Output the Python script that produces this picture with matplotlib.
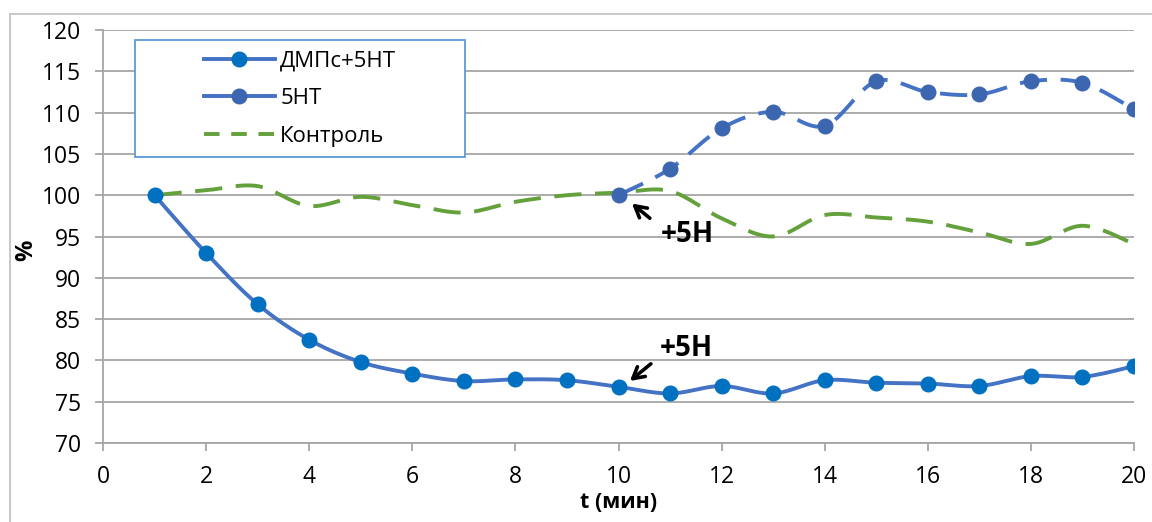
import numpy as np
import matplotlib
matplotlib.use("Agg")
from matplotlib import pyplot as plt
from matplotlib.lines import Line2D
from matplotlib.patches import Rectangle

plt.rcParams['font.family'] = ['Open Sans', 'DejaVu Sans']

# data
t_all = list(range(1, 21))
dmps_5nt = [100, 93.0, 86.8, 82.5, 79.8, 78.4, 77.5, 77.7, 77.6, 76.8,
            76.0, 76.9, 76.0, 77.6, 77.3, 77.2, 76.9, 78.1, 78.0, 79.3]
t_5nt = list(range(10, 21))
only_5nt = [100, 103.2, 108.1, 110.1, 108.4, 113.8, 112.5, 112.2, 113.8, 113.6, 110.4]
control = [100, 100.6, 101.1, 98.7, 99.8, 98.8, 97.9, 99.2, 100.0, 100.3,
           100.5, 97.2, 95.0, 97.6, 97.3, 96.8, 95.5, 94.1, 96.3, 94.1]

labels = ['ДМПс+5НТ', '5НТ', 'Контроль']
blue_line = '#4472C4'
c1_marker = '#0070C0'
c2_marker = '#3D66B0'
green = '#64A03C'
grid_c = '#A6A6A6'


def smooth(x, y, n=30):
    # Excel-like smoothed line (catmull-rom bezier)
    x = np.asarray(x, float)
    y = np.asarray(y, float)
    px = np.concatenate([[x[0]], x, [x[-1]]])
    py = np.concatenate([[y[0]], y, [y[-1]]])
    xs, ys = [], []
    s = np.linspace(0, 1, n)
    for i in range(len(x) - 1):
        p0 = np.array([px[i + 1], py[i + 1]])
        p3 = np.array([px[i + 2], py[i + 2]])
        c1 = p0 + (p3 - np.array([px[i], py[i]])) / 6
        c2 = p3 - (np.array([px[i + 3], py[i + 3]]) - p0) / 6
        b = ((1 - s) ** 3)[:, None] * p0 + (3 * (1 - s) ** 2 * s)[:, None] * c1 \
            + (3 * (1 - s) * s ** 2)[:, None] * c2 + (s ** 3)[:, None] * p3
        xs.extend(b[:, 0])
        ys.extend(b[:, 1])
    return np.array(xs), np.array(ys)


fig = plt.figure(figsize=(11.52, 5.22), dpi=100)
ax = fig.add_axes([103 / 1152, 1 - 443 / 522, 1031 / 1152, 413 / 522])

ax.set_xlim(0, 20)
ax.set_ylim(70, 120)
ax.set_xticks(range(0, 21, 2))
ax.set_yticks(range(70, 121, 5))
ax.yaxis.grid(True, color=grid_c, lw=1.3)
ax.set_axisbelow(True)
for s in ['top', 'right']:
    ax.spines[s].set_visible(False)
for s in ['left', 'bottom']:
    ax.spines[s].set_color(grid_c)
    ax.spines[s].set_linewidth(1.3)
ax.tick_params(axis='both', colors=grid_c, length=6, width=1.3, labelsize=16.5,
               labelcolor='black')
ax.tick_params(axis='y', pad=10)
ax.tick_params(axis='x', pad=10)

# control
sx, sy = smooth(t_all, control)
ax.plot(sx, sy, color=green, lw=2.8, dashes=(7, 3.5), zorder=2)

# 5НТ
sx, sy = smooth(t_5nt, only_5nt)
ax.plot(sx, sy, color=blue_line, lw=2.8, dashes=(7, 3.5), zorder=3)
ax.plot(t_5nt, only_5nt, 'o', color=c2_marker, ms=10.5, zorder=4)

# ДМПс+5НТ
sx, sy = smooth(t_all, dmps_5nt)
ax.plot(sx, sy, color=blue_line, lw=2.8, zorder=3)
ax.plot(t_all, dmps_5nt, 'o', color=c1_marker, ms=10.5, zorder=4)

# annotations
arr = dict(arrowstyle='->,head_length=0.8,head_width=0.45', color='black', lw=2.6)
ax.annotate('', xy=(10.22, 99.2), xytext=(10.65, 97.0), arrowprops=arr)
ax.text(11.33, 95.2, '+5Н', fontsize=20, fontweight='bold', ha='center', va='center')
ax.annotate('', xy=(10.18, 77.3), xytext=(10.67, 79.8), arrowprops=arr)
ax.text(11.31, 81.5, '+5Н', fontsize=20, fontweight='bold', ha='center', va='center')

ax.set_xlabel('t (мин)', fontsize=15.5, fontweight='bold', labelpad=2)
ax.set_ylabel('%', fontsize=17, fontweight='bold')
ax.yaxis.set_label_coords(-0.063, 0.467)

# legend
handles = [
    Line2D([], [], color=blue_line, lw=2.8, marker='o', ms=10.5,
           markerfacecolor=c1_marker, markeredgecolor=c1_marker),
    Line2D([], [], color=blue_line, lw=2.8, marker='o', ms=10.5,
           markerfacecolor=c2_marker, markeredgecolor=c2_marker),
    Line2D([], [], color=green, lw=2.8, dashes=(4, 3)),
]
box = (0.031, 0.692, 0.32, 0.284)
ax.add_patch(Rectangle(box[:2], box[2], box[3], transform=ax.transAxes,
                       facecolor='white', edgecolor='#5B9BD5', lw=1.3, zorder=5))
leg = ax.legend(handles, labels, loc='center', bbox_to_anchor=box, frameon=False,
                fontsize=16, handlelength=3.2, handletextpad=0.25, labelspacing=0.75)
leg.set_zorder(6)

# outer chart border (left and top)
fig.add_artist(Line2D([10 / 1152, 10 / 1152], [0, 1 - 14 / 522], color='#BFBFBF', lw=1.2))
fig.add_artist(Line2D([10 / 1152, 1], [1 - 14 / 522, 1 - 14 / 522], color='#BFBFBF', lw=1.2))

fig.savefig('out.png', dpi=100)
